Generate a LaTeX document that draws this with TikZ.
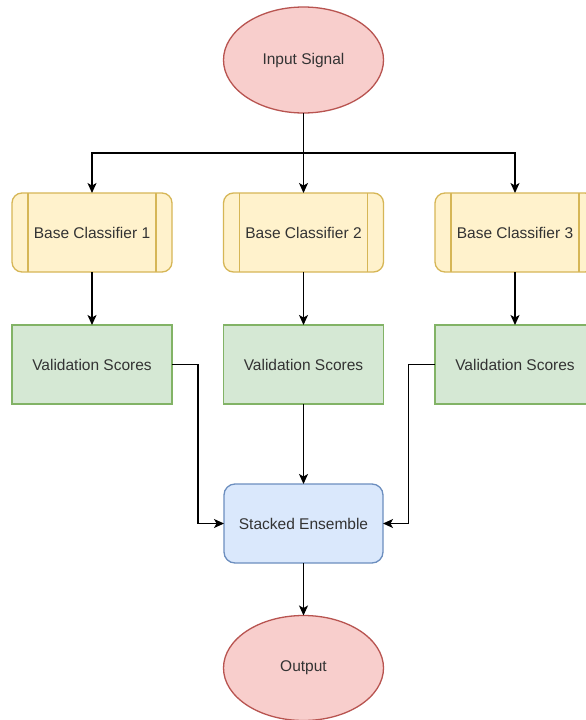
\documentclass[tikz,border=0pt]{standalone}
\usepackage{fontspec}
\setmainfont{Liberation Sans}
\usetikzlibrary{shapes.geometric,arrows.meta}
\definecolor{redfill}{HTML}{F8CECC}\definecolor{redline}{HTML}{B85450}
\definecolor{yelfill}{HTML}{FFF2CC}\definecolor{yelline}{HTML}{D6B656}
\definecolor{grnfill}{HTML}{D5E8D4}\definecolor{grnline}{HTML}{82B366}
\definecolor{blufill}{HTML}{DAE8FC}\definecolor{bluline}{HTML}{6C8EBF}
\definecolor{txt}{HTML}{333333}
\tikzset{
  base/.style={line width=1.3pt, outer sep=0pt, inner sep=2pt, text=txt,
    font=\fontsize{15.5}{18}\selectfont, align=center},
  terminal/.style={base, ellipse, draw=redline, fill=redfill,
    minimum width=160pt, minimum height=106pt},
  classifier/.style={base, rectangle, rounded corners=10pt, draw=yelline, fill=yelfill,
    minimum width=160pt, minimum height=79pt},
  scorebox/.style={base, rectangle, draw=grnline, fill=grnfill,
    minimum width=160pt, minimum height=79pt},
  ensemble/.style={base, rectangle, rounded corners=11pt, draw=bluline, fill=blufill,
    minimum width=159pt, minimum height=79pt},
  sideline/.style={line width=1.3pt, draw=yelline},
  arr/.style={line width=1.3pt, -{Stealth[length=10pt, width=9pt, inset=2.5pt]}},
}
\begin{document}
\begin{tikzpicture}[x=1pt, y=-1pt]
\useasboundingbox (0,0) rectangle (586,720);
\fill[white] (0,0) rectangle (586,720);

\node[terminal] (in) at (303.5,60) {Input Signal};

\node[classifier] (bc1) at (92,232.5) {Base Classifier 1};
\node[classifier] (bc2) at (303.5,232.5) {Base Classifier 2};
\node[classifier] (bc3) at (515,232.5) {Base Classifier 3};
\foreach \b in {bc1,bc2,bc3}{
  \draw[sideline] ([xshift=16pt]\b.north west) -- ([xshift=16pt]\b.south west);
  \draw[sideline] ([xshift=-16pt]\b.north east) -- ([xshift=-16pt]\b.south east);
}

\node[scorebox] (vs1) at (92,364.5) {Validation Scores};
\node[scorebox] (vs2) at (303.5,364.5) {Validation Scores};
\node[scorebox] (vs3) at (515,364.5) {Validation Scores};

\node[ensemble] (se) at (303.5,523.5) {Stacked Ensemble};
\node[terminal, minimum height=105pt] (out) at (303.5,668) {Output};

% fan-out from the input
\coordinate (split) at (303.5,153);
\draw[arr] (in.south) -- (bc2.north);
\draw[arr] (split) -| (bc1.north);
\draw[arr] (split) -| (bc3.north);

% classifiers to scores
\draw[arr] (bc1.south) -- (vs1.north);
\draw[arr] (bc2.south) -- (vs2.north);
\draw[arr] (bc3.south) -- (vs3.north);

% scores into the ensemble
\coordinate (l) at (198,0);
\coordinate (r) at (408.5,0);
\draw[arr] (vs1.east) -| (l |- se.west) -- (se.west);
\draw[arr] (vs2.south) -- (se.north);
\draw[arr] (vs3.west) -| (r |- se.east) -- (se.east);

\draw[arr] (se.south) -- (out.north);
\end{tikzpicture}
\end{document}
